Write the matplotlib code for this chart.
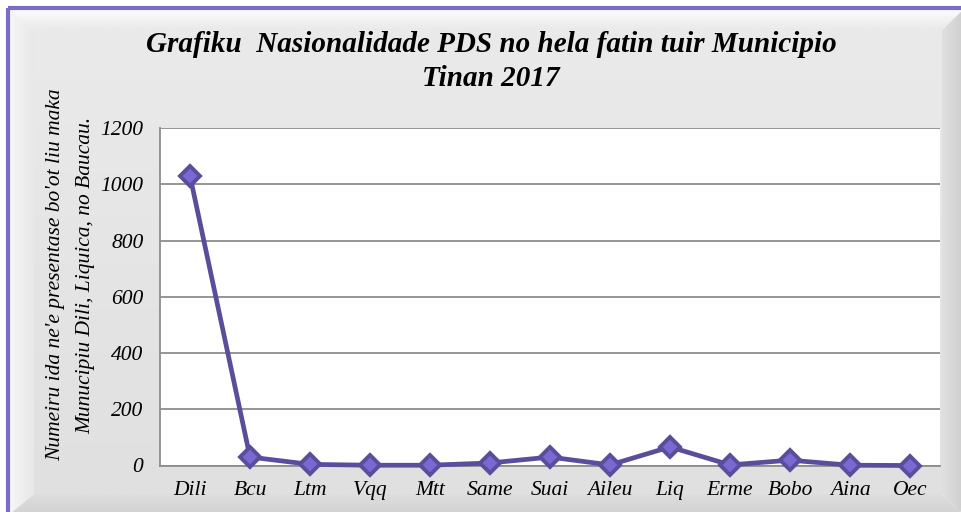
import numpy as np
import matplotlib.pyplot as plt
from matplotlib.patches import Polygon, Rectangle

municipios = ['Dili', 'Bcu', 'Ltm', 'Vqq', 'Mtt', 'Same', 'Suai', 'Aileu',
              'Liq', 'Erme', 'Bobo', 'Aina', 'Oec']
numeiru = [1030, 30, 4, 1, 1, 9, 30, 2, 66, 2, 19, 1, 0]
y_ticks = [0, 200, 400, 600, 800, 1000, 1200]

title = 'Grafiku  Nasionalidade PDS no hela fatin tuir Municipio\nTinan 2017'
ylabel = "Numeiru ida ne'e presentase bo'ot liu maka\nMunucipiu Dili, Liquica, no Baucau."

W, H = 961, 512
fig = plt.figure(figsize=(W / 100, H / 100), dpi=100)
fig.patch.set_facecolor('white')

# background panel in pixel coordinates
bg = fig.add_axes([0, 0, 1, 1])
bg.set_xlim(0, W)
bg.set_ylim(H, 0)
bg.axis('off')


def grad(ax, poly, c0, c1, vertical=True):
    # gradient image clipped to a polygon
    p = Polygon(poly, closed=True, facecolor='none', edgecolor='none')
    ax.add_patch(p)
    xs = [v[0] for v in poly]
    ys = [v[1] for v in poly]
    t = np.linspace(0, 1, 64)
    c0 = np.array(plt.matplotlib.colors.to_rgb(c0))
    c1 = np.array(plt.matplotlib.colors.to_rgb(c1))
    cols = c0 + (c1 - c0) * t[:, None]
    img = cols[:, None, :] if vertical else cols[None, :, :]
    im = ax.imshow(img, extent=(min(xs), max(xs), max(ys), min(ys)),
                   aspect='auto', interpolation='bilinear', zorder=1)
    im.set_clip_path(p)


L, T, R, B = 10, 10, W + 2, H + 2
iL, iT, iR, iB = 34, 30, 942, 494
grad(bg, [(iL, iT), (iR, iT), (iR, iB), (iL, iB)], '#eaeaea', '#e0e0e0')
grad(bg, [(L, T), (R, T), (iR, iT), (iL, iT)], '#fbfbfb', '#e9e9e9')
grad(bg, [(L, T), (iL, iT), (iL, iB), (L, B)], '#f6f6f6', '#e8e8e8', vertical=False)
grad(bg, [(iR, iT), (R, T), (R, B), (iR, iB)], '#e0e0e0', '#cfcfcf', vertical=False)
grad(bg, [(L, B), (iL, iB), (iR, iB), (R, B)], '#dedede', '#d2d2d2')
bg.add_patch(Rectangle((8, 8), W, H, fill=False, edgecolor='#7b6cc8',
                       linewidth=3, zorder=3))

ax = fig.add_axes([160 / W, 1 - 465.5 / H, 780 / W, (465.5 - 128) / H])
ax.set_facecolor('white')
x = np.arange(len(municipios))
ax.plot(x, numeiru, color='#5a4e9c', linewidth=3.4, marker='D',
        markersize=10, markerfacecolor='#7b68d2', markeredgecolor='#5a4e9c',
        markeredgewidth=2.8, zorder=3, clip_on=False)

ax.set_xlim(-0.5, len(municipios) - 0.5)
ax.set_ylim(0, 1200)
ax.set_yticks(y_ticks)
ax.set_xticks(x)
ax.set_xticklabels(municipios)
ax.grid(axis='y', color='#8c8c8c', linewidth=1.3)
ax.set_axisbelow(True)
for s in ['top', 'right']:
    ax.spines[s].set_visible(False)
for s in ['left', 'bottom']:
    ax.spines[s].set_color('#8c8c8c')
    ax.spines[s].set_linewidth(1.3)
ax.tick_params(axis='y', length=0, pad=12)
ax.tick_params(axis='x', length=0, pad=11)
for lab in ax.get_xticklabels() + ax.get_yticklabels():
    lab.set_fontfamily('Liberation Serif')
    lab.set_fontstyle('italic')
    lab.set_fontsize(15.5)

fig.text(491 / W, 1 - 61.5 / H, title, ha='center', va='center',
         multialignment='center', fontfamily='Liberation Serif',
         fontstyle='italic', fontweight='bold', fontsize=21, linespacing=1.32)
fig.text(71 / W, 1 - 275 / H, ylabel, ha='center', va='center', rotation=90,
         multialignment='center', fontfamily='Liberation Serif',
         fontstyle='italic', fontsize=15.5, linespacing=1.8)

fig.savefig('out.png', dpi=100)
